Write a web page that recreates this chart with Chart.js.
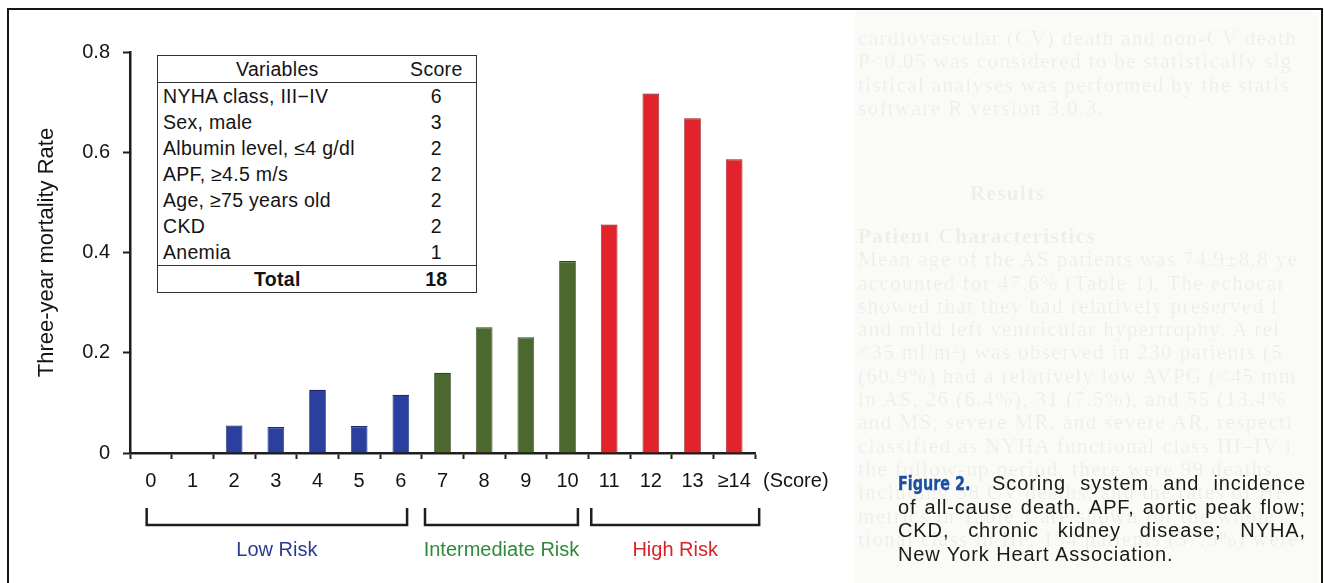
<!DOCTYPE html>
<html>
<head>
<meta charset="utf-8">
<script src="https://cdn.jsdelivr.net/npm/chart.js@4.4.1/dist/chart.umd.min.js"></script>
<style>
    html, body { margin: 0; padding: 0; background: #fff; }
    body { width: 1324px; height: 583px; position: relative; overflow: hidden; font-family: 'Liberation Sans', Arial, sans-serif; color: #141414; }
    #chart-score { position: absolute; left: 0; top: 0; }
    .moldura { position: absolute; left: 7px; top: 8px; width: 1312px; height: 600px; border: 2.5px solid #151515; border-bottom: none; pointer-events: none; }
    .pagina { position: absolute; left: 855px; top: 11px; width: 464px; height: 572px; background: #fafaf7; overflow: hidden; }
    .fundo { position: absolute; left: 3px; font-family: 'Liberation Serif', serif; font-size: 21px; line-height: 23.3px; letter-spacing: 1.4px; color: rgba(60, 55, 50, 0.065); white-space: nowrap; }
    .fundo .tit { font-weight: bold; }
    table.vars { position: absolute; left: 157px; top: 55px; width: 320px; border-collapse: collapse; border: 1.5px solid #333; background: #fff; font-size: 19.5px; letter-spacing: 0.3px; }
    table.vars th { font-weight: normal; height: 26px; padding: 0; border-bottom: 1.5px solid #333; }
    table.vars td { height: 26px; padding: 0; line-height: 26px; }
    table.vars td.var { padding-left: 5px; }
    table.vars td.pts { text-align: center; }
    table.vars tr.total td { border-top: 1.5px solid #333; font-weight: bold; text-align: center; height: 24px; }
    .legenda { position: absolute; left: 898px; top: 472px; width: 408px; font-size: 20px; letter-spacing: 0.9px; line-height: 23.5px; color: #1a1a1a; }
    .legenda div { text-align: justify; text-align-last: justify; white-space: nowrap; }
    .legenda div.ult { text-align-last: left; }
    .legenda .fig { display: inline-block; width: 80px; margin-right: 14px; letter-spacing: 0; }
    .legenda .fig b { display: inline-block; font-family: 'DejaVu Sans Condensed', 'DejaVu Sans', sans-serif; font-weight: 700; font-size: 19px; color: #1c4f9d; -webkit-text-stroke: 0.3px #1c4f9d; transform: scaleX(0.84); transform-origin: left center; }
</style>
</head>
<body>
<div class="pagina">
    <div class="fundo" style="top: 16px;">
        <div>cardiovascular (CV) death and non-CV death</div>
        <div>P&lt;0.05 was considered to be statistically sig</div>
        <div>tistical analyses was performed by the statis</div>
        <div>software R version 3.0.3.</div>
    </div>
    <div class="fundo" style="top: 171px; left: 115px;"><div class="tit">Results</div></div>
    <div class="fundo" style="top: 214px;">
        <div class="tit">Patient Characteristics</div>
        <div>Mean age of the AS patients was 74.9±8.8 ye</div>
        <div>accounted for 47.6% (Table 1). The echocar</div>
        <div>showed that they had relatively preserved l</div>
        <div>and mild left ventricular hypertrophy. A rel</div>
        <div>&lt;35 ml/m²) was observed in 230 patients (5</div>
        <div>(60.9%) had a relatively low AVPG (&lt;45 mm</div>
        <div>in AS, 26 (6.4%), 31 (7.5%), and 55 (13.4%</div>
        <div>and MS, severe MR, and severe AR, respecti</div>
        <div>classified as NYHA functional class III–IV i</div>
        <div>the follow-up period, there were 99 deaths</div>
        <div>including 38 CV deaths, and the rates of HF</div>
        <div>metrics in Table 1 are shown for the whole</div>
        <div>tional class in HF, 154 patients (37.5%) were</div>
    </div>
</div>

<canvas id="chart-score" width="1324" height="583"></canvas>

<table class="vars">
    <colgroup><col style="width: 240px;"><col style="width: 80px;"></colgroup>
    <thead><tr><th>Variables</th><th>Score</th></tr></thead>
    <tbody id="vars-body"></tbody>
</table>

<div class="legenda">
    <div><span class="fig"><b>Figure 2.</b></span>Scoring system and incidence</div>
    <div>of all-cause death. APF, aortic peak flow;</div>
    <div>CKD, chronic kidney disease; NYHA,</div>
    <div class="ult">New York Heart Association.</div>
</div>

<div class="moldura"></div>

<script>
// dados
const scoreLabels = ['0', '1', '2', '3', '4', '5', '6', '7', '8', '9', '10', '11', '12', '13', '≥14'];
const mortalityRate = [0, 0, 0.055, 0.052, 0.126, 0.054, 0.116, 0.160, 0.251, 0.231, 0.383, 0.456, 0.717, 0.668, 0.586];
const riskGroup = ['low', 'low', 'low', 'low', 'low', 'low', 'low', 'mid', 'mid', 'mid', 'mid', 'high', 'high', 'high', 'high'];
const yTicks = [0, 0.2, 0.4, 0.6, 0.8];

const riskNames = ['Low Risk', 'Intermediate Risk', 'High Risk'];
const riskFirst = [0, 7, 11];
const riskLast = [6, 10, 14];

const tableVariables = ['NYHA class, III\u2212IV', 'Sex, male', 'Albumin level, ≤4 g/dl', 'APF, ≥4.5 m/s', 'Age, ≥75 years old', 'CKD', 'Anemia'];
const tablePoints = [6, 3, 2, 2, 2, 2, 1];
const tableTotal = 18;

const COR_BARRA = { low: '#2b3f9e', mid: '#4b692e', high: '#e2232b' };
const COR_BORDA = { low: '#1d2a66', mid: '#2f431c', high: '#8e1a1e' };
const COR_TEXTO = ['#2b3a93', '#2e8a3a', '#da2129'];
// extensao dos colchetes em unidades de categoria (esq, dir)
const COLCHETE = [[-0.1, 0.15], [-0.42, 0.25], [-0.43, 0.6]];
const FONTE = "'Liberation Sans', Arial, sans-serif";

function montarTabela() {
    const tbody = document.getElementById('vars-body');
    tbody.innerHTML = tableVariables.map((v, i) =>
        `<tr><td class="var">${v}</td><td class="pts">${tablePoints[i]}</td></tr>`
    ).join('') + `<tr class="total"><td>Total</td><td>${tableTotal}</td></tr>`;
}

const pluginRisco = {
    id: 'riscoColchetes',
    afterDraw(chart) {
        const { ctx, chartArea } = chart;
        const x = chart.scales.x;
        const w = (x.right - x.left) / scoreLabels.length;
        const base = chartArea.bottom;
        ctx.save();

        ctx.fillStyle = '#141414';
        ctx.font = '20px ' + FONTE;
        ctx.textAlign = 'left';
        ctx.textBaseline = 'middle';
        ctx.fillText('(Score)', x.right + 8, base + 28);

        ctx.lineWidth = 2.5;
        ctx.strokeStyle = '#1e1e1e';
        riskNames.forEach((nome, i) => {
            const esq = x.getPixelForValue(riskFirst[i]) + COLCHETE[i][0] * w;
            const dir = x.getPixelForValue(riskLast[i]) + COLCHETE[i][1] * w;
            ctx.beginPath();
            ctx.moveTo(esq, base + 55);
            ctx.lineTo(esq, base + 72);
            ctx.lineTo(dir, base + 72);
            ctx.lineTo(dir, base + 55);
            ctx.stroke();

            ctx.fillStyle = COR_TEXTO[i];
            ctx.textAlign = 'center';
            ctx.fillText(nome, (esq + dir) / 2, base + 97);
        });
        ctx.restore();
    }
};

function desenharGrafico() {
    new Chart(document.getElementById('chart-score'), {
        type: 'bar',
        data: {
            labels: scoreLabels,
            datasets: [{
                data: mortalityRate,
                backgroundColor: riskGroup.map(g => COR_BARRA[g]),
                borderColor: riskGroup.map(g => COR_BORDA[g]),
                borderWidth: { top: 1.2, left: 0.8, right: 0.8, bottom: 0 },
                barPercentage: 0.4,
                categoryPercentage: 1.0
            }]
        },
        options: {
            responsive: false,
            animation: false,
            layout: { padding: { left: 0, top: 52, right: 569, bottom: 0 } },
            plugins: { legend: { display: false }, tooltip: { enabled: false } },
            scales: {
                x: {
                    type: 'category',
                    offset: true,
                    afterFit: (s) => { s.height = 130; },
                    grid: { offset: true, drawOnChartArea: false, drawTicks: true, tickLength: 6, tickWidth: 2, tickColor: '#1e1e1e' },
                    border: { display: true, color: '#1e1e1e', width: 2.5 },
                    ticks: { color: '#141414', font: { family: FONTE, size: 20 }, padding: 10, maxRotation: 0, autoSkip: false }
                },
                y: {
                    min: 0,
                    max: 0.8,
                    afterFit: (s) => { s.width = 130; },
                    afterBuildTicks: (s) => { s.ticks = yTicks.map(v => ({ value: v })); },
                    grid: { drawOnChartArea: false, drawTicks: true, tickLength: 7, tickWidth: 2, tickColor: '#1e1e1e' },
                    border: { display: true, color: '#1e1e1e', width: 2.5 },
                    ticks: {
                        color: '#141414',
                        font: { family: FONTE, size: 20 },
                        padding: 13,
                        callback: (v) => v === 0 ? '0' : Number(v).toFixed(1)
                    },
                    title: {
                        display: true,
                        text: 'Three-year mortality Rate',
                        color: '#141414',
                        font: { family: FONTE, size: 22 },
                        padding: { top: 34, bottom: 0 }
                    }
                }
            }
        },
        plugins: [pluginRisco]
    });
}

montarTabela();
desenharGrafico();
</script>
</body>
</html>
